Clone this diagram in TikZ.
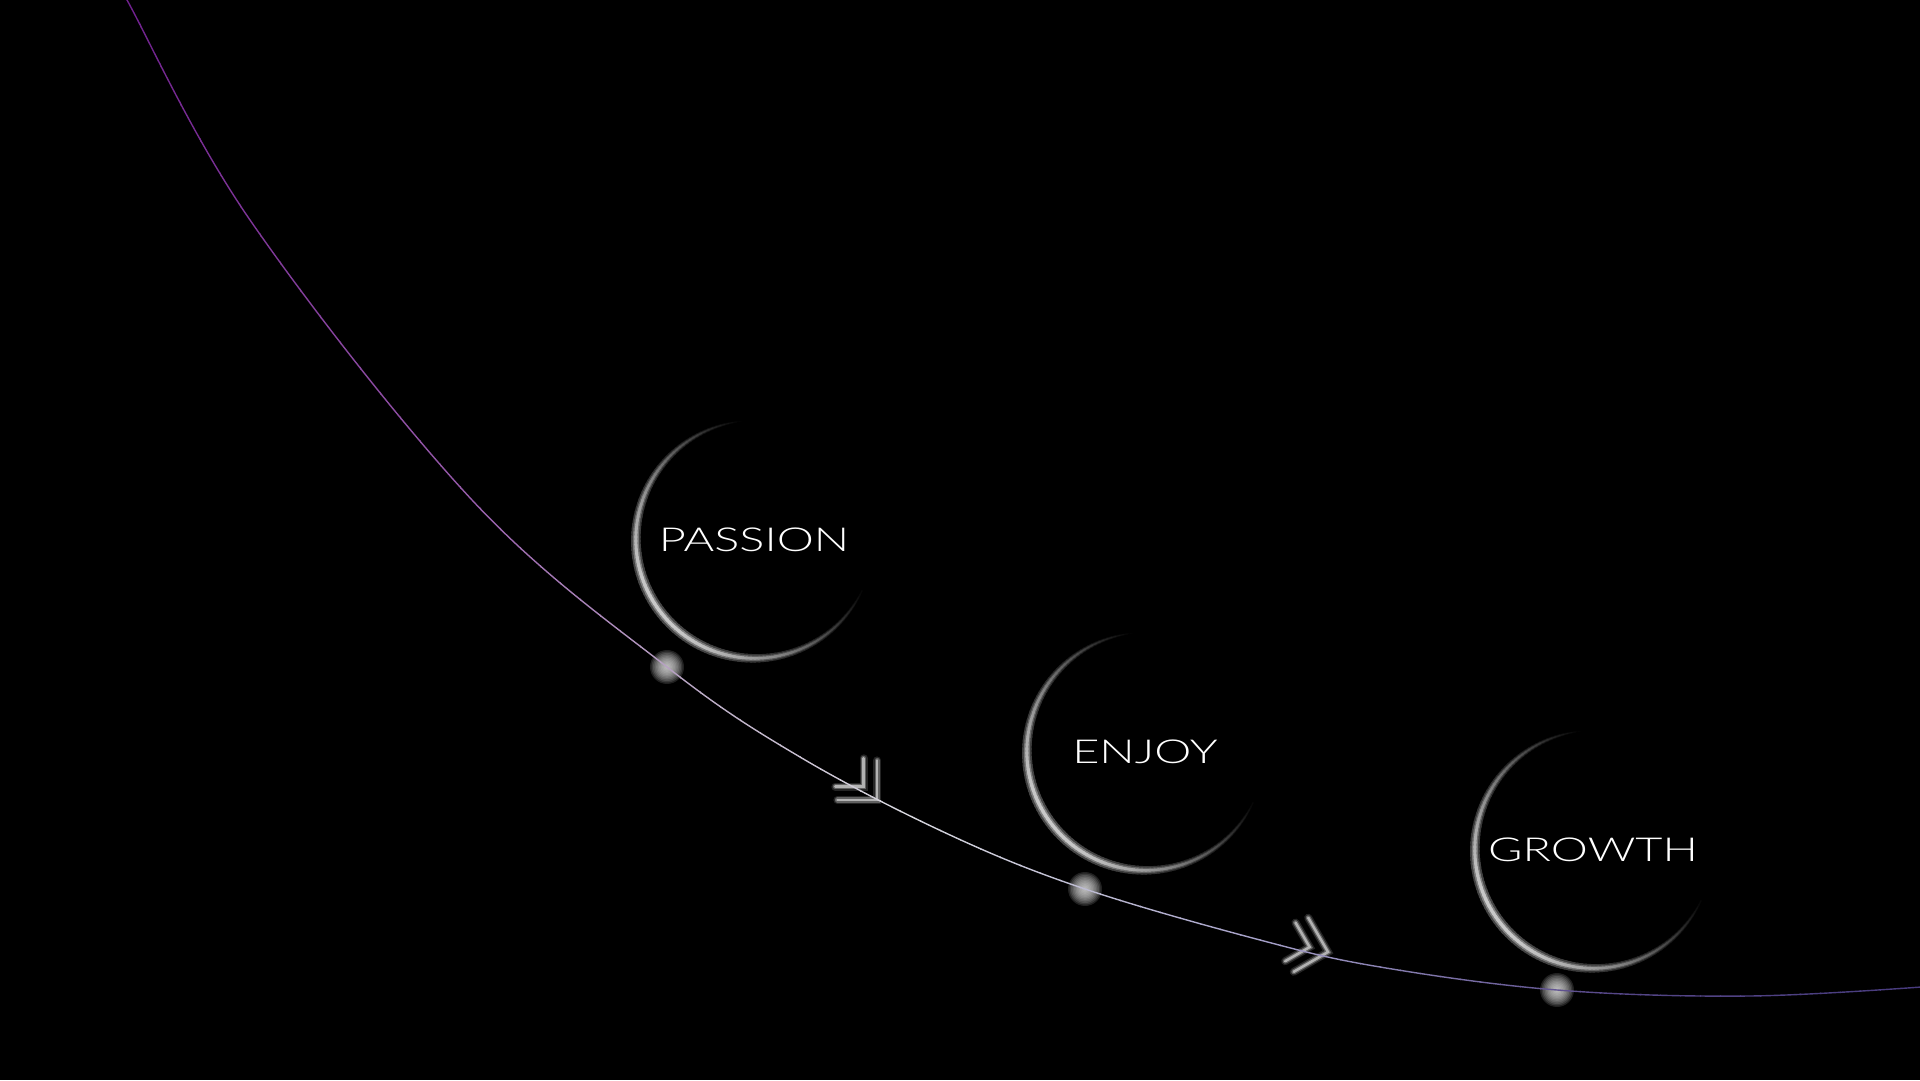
\documentclass[tikz,border=0pt]{standalone}
\usepackage{fontspec}
\newfontfamily\labelfont{Lato Light}[FakeStretch=1.42]
\usetikzlibrary{calc}

\definecolor{trailA}{RGB}{110,30,140}
\definecolor{trailB}{RGB}{150,90,170}
\definecolor{trailC}{RGB}{190,175,200}
\definecolor{trailD}{RGB}{215,215,222}
\definecolor{trailE}{RGB}{165,160,200}
\definecolor{trailF}{RGB}{85,70,135}
\definecolor{trailG}{RGB}{70,58,125}
\colorlet{dotlight}{white!90!black}

\tikzset{
  ring label/.style={text=white, font=\labelfont\fontsize{33}{33}\selectfont, inner sep=0pt},
  trail line/.style={line width=1.4pt, draw=trailseg},
  dot layer/.style={fill=dotlight, opacity=0.14},
  chevron glow/.style={line width=8pt, draw=white!14!black, line cap=round},
  chevron mid/.style={line width=5pt, draw=white!38!black, line cap=round},
  chevron core/.style={line width=2.5pt, draw=white!70!black, line cap=round}
}

\newcommand{\trailcurve}{plot[smooth, tension=0.6] coordinates {(118,1097) (127,1080) (250,860) (472,580) (dotA) (800,323) (950,245) (dotB) (1260,140) (1380,113) (dotC) (1750,84) (1935,94)}}
\newcommand{\chevpath}{(-28,28) -- (0,0) -- (-28,-28) (-39,20) -- (-19,0) -- (-39,-20)}

\begin{document}
\begin{tikzpicture}[x=1pt, y=1pt]
    \useasboundingbox (0,0) rectangle (1920,1080);
    \fill[black] (0,0) rectangle (1920,1080);
    % points on the trail
    \coordinate (dotA) at (667,413);
    \coordinate (dotB) at (1085,191);
    \coordinate (dotC) at (1557,90);
    \coordinate (chevA) at (877,280);
    \coordinate (chevB) at (1328,128);
    % labels
    \node[ring label] (passion) at (754,540) {PASSION};
    \node[ring label] (enjoy)   at (1145,328) {ENJOY};
    \node[ring label] (growth)  at (1593,230) {GROWTH};
    % crescents round the labels
    \foreach \ring in {passion,enjoy,growth}{
        \foreach \wa/\wb/\lv in {1.5/9/28, 1/5.5/52, 0.6/2.6/80}{
            \foreach \a in {92,94,...,332}{
                \pgfmathsetmacro\f{max(0,cos(0.75*(\a-215)))}
                \pgfmathsetmacro\rc{119.4-1.4*\f}
                \pgfmathsetmacro\w{\wa+\wb*\f}
                \pgfmathtruncatemacro\lev{\lv*\f}
                \draw[line width=\w pt, draw=white!\lev!black] (\ring.center) ++(\a:\rc) arc[start angle=\a, delta angle=3, radius=\rc];
            }
        }
    }
    % glowing dots
    \foreach \d in {dotA,dotB,dotC}
        \foreach \r in {17,15.5,...,1}
            \fill[dot layer] (\d) circle (\r);
    % double chevrons
    \foreach \chev/\ang in {chevA/-45, chevB/-15}{
        \begin{scope}[shift={(\chev)}, rotate=\ang]
            \draw[chevron glow] \chevpath;
            \draw[chevron mid] \chevpath;
            \draw[chevron core] \chevpath;
        \end{scope}
    }
    % the trail, coloured band by band
    \foreach \xs in {100,120,...,1920}{
        \ifdim\xs pt<450pt \def\ca{trailA}\def\cb{trailB}\def\xa{100}\def\xb{450}\else
        \ifdim\xs pt<700pt \def\ca{trailB}\def\cb{trailC}\def\xa{450}\def\xb{700}\else
        \ifdim\xs pt<900pt \def\ca{trailC}\def\cb{trailD}\def\xa{700}\def\xb{900}\else
        \ifdim\xs pt<1250pt \def\ca{trailD}\def\cb{trailE}\def\xa{900}\def\xb{1250}\else
        \ifdim\xs pt<1600pt \def\ca{trailE}\def\cb{trailF}\def\xa{1250}\def\xb{1600}\else
        \def\ca{trailF}\def\cb{trailG}\def\xa{1600}\def\xb{1940}\fi\fi\fi\fi\fi
        \pgfmathtruncatemacro\pc{(\xs-\xa)/(\xb-\xa)*100}
        \colorlet{trailseg}{\cb!\pc!\ca}
        \begin{scope}
            \clip (\xs,0) rectangle ++(21,1080);
            \draw[trail line] \trailcurve;
        \end{scope}
    }
\end{tikzpicture}
\end{document}
